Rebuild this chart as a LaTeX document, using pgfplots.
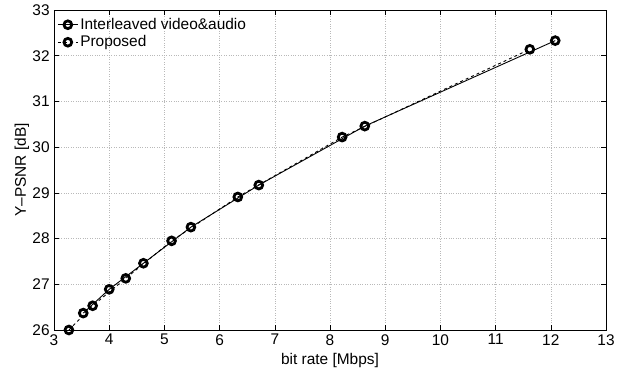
\documentclass[border=0pt]{standalone}
\usepackage{pgfplots}
\pgfplotsset{compat=1.18}
\usepackage{fontspec}
\setmainfont{Liberation Sans}
\begin{document}
\fontsize{15.5}{18}\selectfont
\begin{tikzpicture}
\useasboundingbox (-54bp,-47bp) rectangle (569bp,330bp);
\begin{axis}[
  at={(0,0)}, anchor=south west,
  scale only axis,
  width=552bp, height=320bp,
  xmin=3, xmax=13, ymin=26, ymax=33,
  xtick={3,4,...,13}, ytick={26,27,...,33},
  /pgf/number format/assume math mode=true,
  tick label style={font=\fontsize{15.5}{18}\selectfont},
  label style={font=\fontsize{15.5}{18}\selectfont},
  xlabel={bit rate [Mbps]},
  ylabel={Y--PSNR [dB]},
  xlabel style={at={(axis description cs:0.5,-0.094)}, anchor=center},
  ylabel style={at={(axis description cs:-0.058,0.5)}, anchor=center},
  xticklabel style={yshift=1pt},
  yticklabel style={xshift=1pt},
  grid=major,
  major grid style={dotted, gray!55, line width=0.6pt},
  tick align=inside,
  major tick length=5pt,
  axis line style={line width=0.9pt},
  tick style={black, line width=0.6pt},
  xtick pos=both, ytick pos=both,
  legend style={draw=none, fill=none, at={(0.004,0.985)}, anchor=north west,
    font=\fontsize{15.5}{18}\selectfont, row sep=0pt, inner sep=1pt},
  legend cell align=left,
  legend image code/.code={\draw[#1, mark repeat=2, mark phase=2]
    plot coordinates {(0bp,0bp) (10bp,0bp) (20bp,0bp)};},
]
\addplot[black, line width=0.9pt, mark=o, mark size=3.9pt,
  mark options={solid, line width=2.8pt}] coordinates {
  (3.53,26.37) (4.00,26.89) (4.62,27.46) (5.48,28.25) (6.71,29.17) (8.63,30.46) (12.08,32.33)
};
\addlegendentry{Interleaved video\&audio}
\addplot[black, line width=0.9pt, dashed, mark=o, mark size=3.9pt,
  mark options={solid, line width=2.8pt}] coordinates {
  (3.27,26.00) (3.70,26.53) (4.30,27.13) (5.13,27.95) (6.33,28.91) (8.22,30.22) (11.62,32.14)
};
\addlegendentry{Proposed}
\end{axis}
\end{tikzpicture}
\end{document}
